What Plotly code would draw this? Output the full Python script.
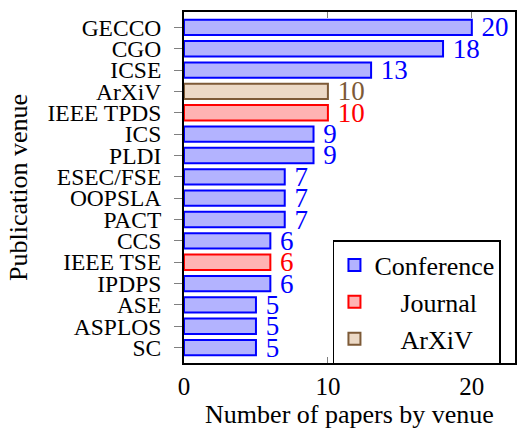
import plotly.graph_objects as go

venues = ["GECCO", "CGO", "ICSE", "ArXiV", "IEEE TPDS", "ICS", "PLDI", "ESEC/FSE",
          "OOPSLA", "PACT", "CCS", "IEEE TSE", "IPDPS", "ASE", "ASPLOS", "SC"]
counts = [20, 18, 13, 10, 10, 9, 9, 7, 7, 7, 6, 6, 6, 5, 5, 5]
kinds = ["Conference", "Conference", "Conference", "ArXiV", "Journal", "Conference",
         "Conference", "Conference", "Conference", "Conference", "Conference", "Journal",
         "Conference", "Conference", "Conference", "Conference"]
x_ticks = [0, 10, 20]

styles = {
    "Conference": dict(fill="rgb(179,179,255)", line="rgb(0,0,255)", pad=0),
    "Journal": dict(fill="rgb(255,179,179)", line="rgb(255,0,0)", pad=4),
    "ArXiV": dict(fill="rgb(236,217,198)", line="rgb(125,90,55)", pad=4),
}

FONT = "Liberation Serif"

fig = go.Figure()
for kind in ["Conference", "Journal", "ArXiV"]:
    ys = [v for v, k in zip(venues, kinds) if k == kind]
    xs = [c for c, k in zip(counts, kinds) if k == kind]
    st = styles[kind]
    fig.add_trace(go.Bar(
        x=xs, y=ys, orientation="h", name="\u00a0" * st["pad"] + kind, width=0.72,
        marker=dict(color=st["fill"], line=dict(color=st["line"], width=2)),
        text=["\u00a0" + str(v) for v in xs], textposition="outside",
        textfont=dict(color=st["line"], size=27, family=FONT),
        constraintext="none", cliponaxis=False,
    ))

fig.update_layout(
    width=518, height=434,
    margin=dict(l=184, r=3, t=12, b=71, autoexpand=False),
    plot_bgcolor="white", paper_bgcolor="white",
    barmode="overlay",
    font=dict(family=FONT, size=23, color="black"),
    showlegend=True,
    legend=dict(
        x=0.45, y=0.35, xanchor="left", yanchor="top",
        bordercolor="black", borderwidth=1.5, bgcolor="white",
        font=dict(size=26, family=FONT), itemsizing="constant",
        tracegroupgap=0,
    ),
)
fig.update_xaxes(
    range=[0, 23], tickmode="array", tickvals=x_ticks, ticktext=[str(t) for t in x_ticks],
    ticks="inside", ticklen=6, tickcolor="gray", tickwidth=1,
    showline=True, linecolor="black", linewidth=2, mirror="ticks",
    showgrid=False, zeroline=False, automargin=False,
    tickfont=dict(size=25, family=FONT),
    title=dict(text="Number of papers by venue", font=dict(size=26, family=FONT), standoff=4),
)
fig.update_yaxes(
    categoryorder="array", categoryarray=venues,
    tickmode="array", tickvals=venues, ticktext=venues,
    range=[15.72, -0.72],
    ticks="outside", ticklen=8, tickcolor="gray", tickwidth=1,
    ticklabelstandoff=8,
    showline=True, linecolor="black", linewidth=2, mirror=True,
    showgrid=False, zeroline=False, automargin=False,
    tickfont=dict(size=23.5, family=FONT),
    title=dict(text="Publication venue", font=dict(size=26, family=FONT), standoff=12),
)

fig.write_html("out.html", config={"displayModeBar": False},
               post_script="document.body.style.margin='0';")
